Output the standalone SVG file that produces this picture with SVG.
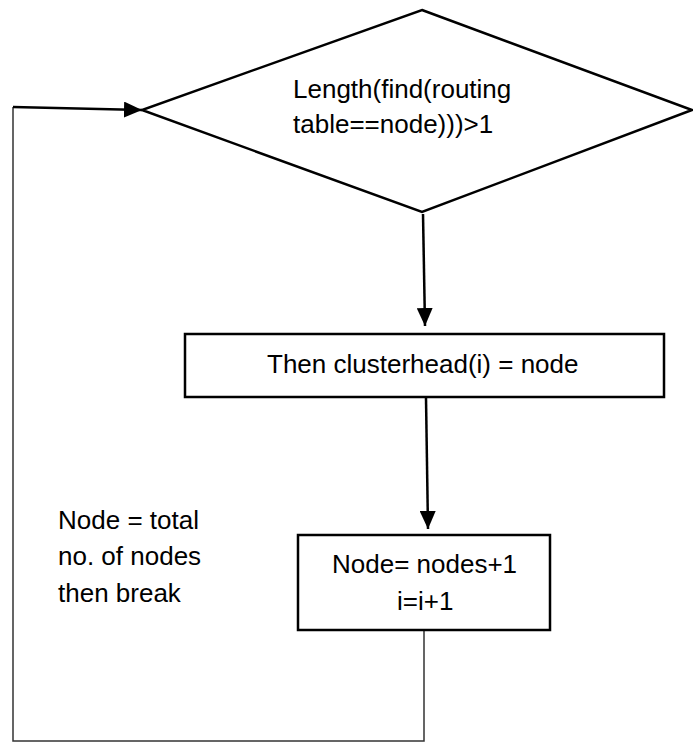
<svg xmlns="http://www.w3.org/2000/svg" width="693" height="742" viewBox="0 0 693 742">
<style>
.shape{fill:#fff;stroke:#000;stroke-width:2.5}
.conn{fill:none;stroke:#000;stroke-width:2.5}
.thin{fill:none;stroke:#333;stroke-width:1.5}
text{font-family:"Liberation Sans",Arial,sans-serif;font-size:26px;fill:#000}
</style>
<defs>
<marker id="arr" markerUnits="userSpaceOnUse" markerWidth="20" markerHeight="16" refX="18" refY="8" orient="auto">
<path d="M0,0 L18,8 L0,16 Z" fill="#000"/>
</marker>
</defs>
<g id="connectors">
<line class="conn" x1="423" y1="214" x2="425" y2="326" marker-end="url(#arr)"/>
<line class="conn" x1="426" y1="398" x2="428" y2="529" marker-end="url(#arr)"/>
<polyline class="thin" points="424,631 424,741 13,741 13,107"/>
<line class="conn" x1="13" y1="107" x2="142" y2="110" marker-end="url(#arr)"/>
</g>
<g id="decision">
<polygon class="shape" points="422,10 692,110 422,212 142,110"/>
<text x="293" y="98">Length(find(routing</text>
<text x="293" y="133">table==node)))&gt;1</text>
</g>
<g id="clusterhead">
<rect class="shape" x="185" y="334" width="479" height="63"/>
<text x="267" y="373">Then clusterhead(i) = node</text>
</g>
<g id="increment">
<rect class="shape" x="298" y="535" width="252" height="95"/>
<text x="332" y="573">Node= nodes+1</text>
<text x="397" y="610">i=i+1</text>
</g>
<g id="loop-label">
<text x="58" y="529">Node = total</text>
<text x="58" y="565">no. of nodes</text>
<text x="58" y="602">then break</text>
</g>
</svg>
